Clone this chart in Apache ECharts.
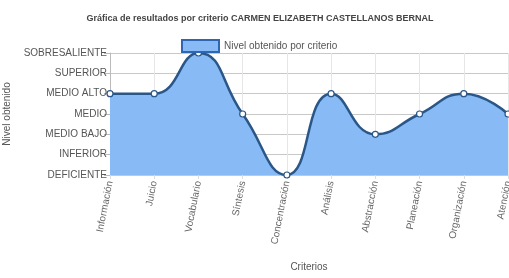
<!DOCTYPE html>
<html><head><meta charset="utf-8">
<script src="https://cdn.jsdelivr.net/npm/echarts@6/dist/echarts.min.js"></script>
<style>html,body{margin:0;padding:0;background:#fff}#c{width:509px;height:278px}</style>
</head><body><div id="c"></div>
<script>
const categories = ["Información","Juicio","Vocabulario","Síntesis","Concentración","Análisis","Abstracción","Planeación","Organización","Atención"];
const values = [4,4,6,3,0,4,2,3,4,3];
const levelLabels = ["DEFICIENTE","INFERIOR","MEDIO BAJO","MEDIO","MEDIO ALTO","SUPERIOR","SOBRESALIENTE"];
const seriesName = "Nivel obtenido por criterio";
const font = "Liberation Sans, Arial, sans-serif";
const chart = echarts.init(document.getElementById('c'));
chart.setOption({
  animation:false,
  textStyle:{fontFamily:font},
  title:{text:"Gráfica de resultados por criterio CARMEN ELIZABETH CASTELLANOS BERNAL",left:255,textAlign:'center',top:9,
    textStyle:{fontSize:9,fontWeight:'bold',color:'#444',fontFamily:font}},
  legend:{data:[{name:seriesName,icon:'rect'}],top:34,left:176,itemWidth:37,itemHeight:12,itemGap:4,
    textStyle:{fontSize:10,color:'#555',fontFamily:font},
    itemStyle:{color:'#88baf5',borderColor:'#2f66b3',borderWidth:2}},
  grid:{left:110,right:1,top:53,bottom:103,containLabel:false,outerBoundsMode:'none'},
  xAxis:{type:'category',data:categories,boundaryGap:false,
    name:'Criterios',nameLocation:'middle',nameGap:87,
    nameTextStyle:{fontSize:10,color:'#555',fontFamily:font},
    axisLine:{show:false},
    axisTick:{show:true,length:4,lineStyle:{color:'#ddd'}},
    axisLabel:{rotate:79,fontSize:10,color:'#666',interval:0,margin:6},
    splitLine:{show:true,lineStyle:{color:'#e6e6e6',width:1}}},
  yAxis:{type:'value',min:0,max:6,interval:1,
    name:'Nivel obtenido',nameLocation:'middle',nameGap:97,
    nameTextStyle:{fontSize:10,color:'#555',fontFamily:font},
    axisLine:{show:true,lineStyle:{color:'#bbb'}},
    axisTick:{show:true,length:6,lineStyle:{color:'#bbb'}},
    axisLabel:{fontSize:10,color:'#555',margin:3,formatter:v=>levelLabels[v]||''},
    splitLine:{show:true,lineStyle:{color:'#c8c8c8',width:1}}},
  series:[{name:seriesName,type:'line',data:values,smooth:0.5,
    symbol:'circle',symbolSize:6,
    itemStyle:{color:'#fff',borderColor:'#2a5788',borderWidth:1.2},
    lineStyle:{color:'#2a5788',width:2.5},
    areaStyle:{color:'#88baf5',opacity:1}}]
});
</script></body></html>
